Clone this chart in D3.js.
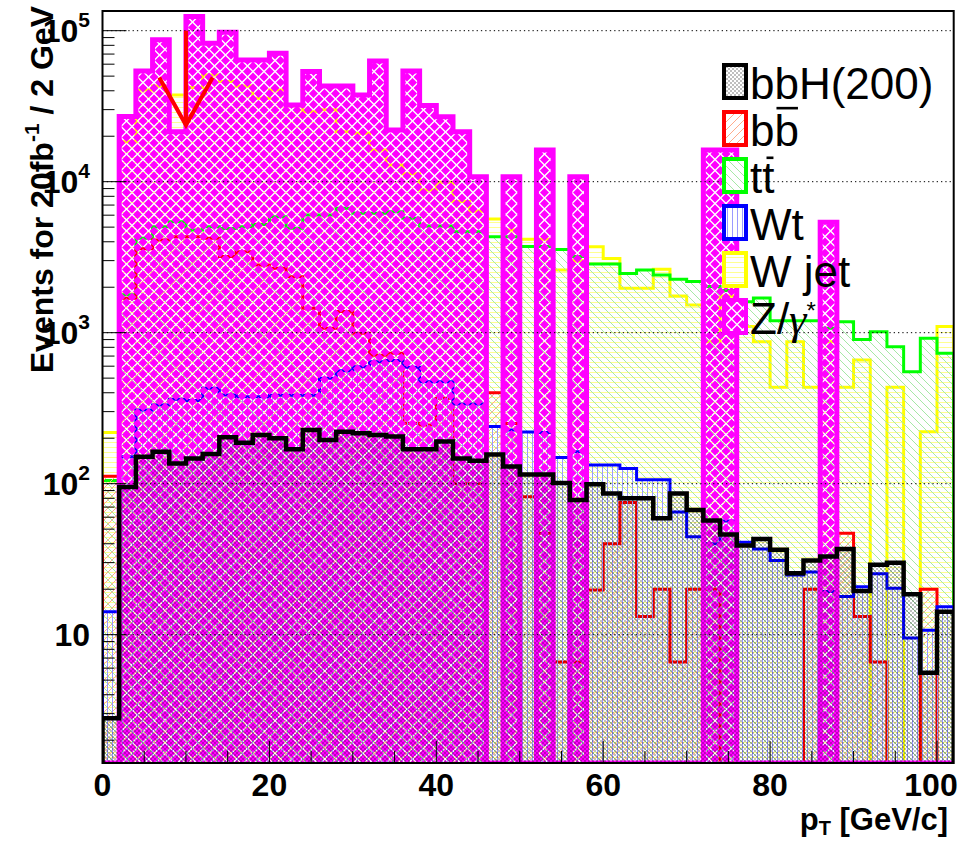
<!DOCTYPE html>
<html><head><meta charset="utf-8">
<script src="https://cdn.jsdelivr.net/npm/d3@7"></script>
<style>body{margin:0;background:#fff} svg{display:block}</style>
</head><body>
<svg id="c" width="971" height="842"></svg>
<script>
// ---------------- data ----------------
const binStart = [0,2,4,6,8,10,12,14,16,18,20,22,24,26,28,30,32,34,36,38,40,42,44,46,48,50,52,54,56,58,60,62,64,66,68,70,72,74,76,78,80,82,84,86,88,90,92,94,96,98,100];
const binWidth = 2;

const bbH = [2.8,95,151,163,136,147,157,203,187,210,200,169,227,195,221,216,210,205,169,169,190,147,142,156,130,115,115,101,78,99,86,80,80,59,86,67,57,46,39,43,36.5,25.5,31,33,37,19.5,29,30,18.5,5.6,14.2];
const bbbar = [112,1690,3600,4110,4320,4320,4220,3190,3440,2810,2670,2350,1450,1070,1380,990,710,731,251,245,368,100,100,400,250,82,47,6.6,6.6,19.8,40,75,13.2,20,6.6,20,20,0,0,0,0,0,20,0,47,13.2,6.6,0,0,20,0];
const ttbar = [105,1780,4220,5030,5430,4790,5030,4900,5030,5200,5860,4920,6010,6010,6660,6170,6170,6330,5720,5090,5090,4660,4660,4320,4320,3720,3720,3560,3200,2850,2850,2470,2600,2410,2260,2180,2020,1900,1600,1700,1200,1200,1200,1070,1180,900,1015,808,552,918,731];
const Wt = [14.2,151,308,332,362,355,428,387,377,377,385,385,385,499,560,595,643,653,590,474,474,337,337,239,227,220,218,149,163,133,133,126,106,106,65,44.6,40,56.6,41,37,31,24.8,26,19.3,17.9,20.8,25.3,20.3,9.5,10.7,15.3];
const Wjet = [218,18400,40500,43000,37500,42000,50900,46000,43000,35700,40500,32200,29100,30000,21400,20900,16200,12900,11300,8800,9900,7400,6400,5660,4790,4160,4160,2600,3000,3710,3100,1970,1970,2630,1750,1525,872,1750,1100,872,435,872,435,872,435,659,0,435,0,221,1100];
const Zgamma = [0,27000,54000,87000,21400,124000,82600,97800,64000,64000,71000,32200,53700,43000,43000,37500,63000,22000,54000,32000,26900,21400,10800,0,10800,0,16200,0,10800,0,0,0,0,0,0,0,16200,16200,0,0,0,0,0,5380,0,0,0,0,0,0,0];

const legendLabels = ["bbH(200)","bb\u0304","tt\u0304","Wt","W jet","Z/\u03b3*"];
const yTickValues = [10,100,1000,10000,100000];
const yTickExp = ["","2","3","4","5"];
const xTickLabels = [0,20,40,60,80,100];
const xMinorStep = 5;
const arrowX = 10, arrowFrom = 100000, arrowTo = 23700, arrowHeadAt = 49000, arrowHalf = 3.2;

// ---------------- layout ----------------
const svg = d3.select('#c');
const fx0 = 102.5, fx1 = 953.7, fy0 = 11, fy1 = 763;
const x = d3.scaleLinear().domain([0, 102]).range([fx0, fx1]);
const y = d3.scaleLog().domain([1.413, 1.35e5]).range([fy1, fy0]);

const defs = svg.append('defs');
defs.append('clipPath').attr('id','frameClip').append('rect')
  .attr('x',fx0).attr('y',fy0).attr('width',fx1-fx0).attr('height',fy1-fy0);
function pat(id,w,h,draw){
  const p = defs.append('pattern').attr('id',id).attr('patternUnits','userSpaceOnUse')
    .attr('width',w).attr('height',h);
  draw(p);
}
pat('pWjet',6,5,p=>p.append('path').attr('d','M0,2.5H6').attr('stroke','#ffff90').attr('stroke-width',1));
pat('pTt',8,8,p=>p.append('path').attr('d','M0,0L8,8M-4,4L4,12M4,-4L12,4').attr('stroke','#a6e8a6').attr('stroke-width',1));
pat('pBb',8,8,p=>p.append('path').attr('d','M0,8L8,0M-4,4L4,-4M4,12L12,4').attr('stroke','#ffab8a').attr('stroke-width',1));
pat('pWt',5,5,p=>p.append('path').attr('d','M2.5,0V5').attr('stroke','#9a9aff').attr('stroke-width',1));
pat('pZ',11,11,p=>p.append('path')
  .attr('d','M0,-4.5L4.5,0L0,4.5L-4.5,0Z M11,-4.5L15.5,0L11,4.5L6.5,0Z M0,6.5L4.5,11L0,15.5L-4.5,11Z M11,6.5L15.5,11L11,15.5L6.5,11Z M5.5,1L10,5.5L5.5,10L1,5.5Z')
  .attr('fill','#ff00ff'));
pat('pBbh',4,4,p=>{
  p.append('rect').attr('x',0.5).attr('y',0.5).attr('width',1).attr('height',1).attr('fill','#000');
  p.append('rect').attr('x',2.5).attr('y',2.5).attr('width',1).attr('height',1).attr('fill','#000');
});

function stepPoints(vals){
  const pts = [[x(0), fy1]];
  vals.forEach((v,i)=>{
    const yy = v > 0 ? y(v) : fy1;
    pts.push([x(binStart[i]), yy], [x(binStart[i]+binWidth), yy]);
  });
  pts.push([x(binStart[binStart.length-1]+binWidth), fy1]);
  return pts;
}
const line = d3.line();
const plot = svg.append('g').attr('clip-path','url(#frameClip)');

const series = [
  {vals:Wjet,  fill:'url(#pWjet)', stroke:'#ffff00', sw:3},
  {vals:ttbar, fill:'url(#pTt)',   stroke:'#00ff00', sw:3},
  {vals:bbbar, fill:'url(#pBb)',   stroke:'#ff0000', sw:3},
  {vals:Wt,    fill:'url(#pWt)',   stroke:'#0000ff', sw:3},
  {vals:Zgamma,fill:'url(#pZ)',    stroke:'#ff00ff', sw:5},
  {vals:bbH,   fill:'url(#pBbh)',  stroke:'#000000', sw:4.5}
];
series.forEach(s=>{
  const pts = stepPoints(s.vals);
  plot.append('path').attr('d', line(pts)+'Z').attr('fill', s.fill).attr('stroke','none');
  plot.append('path').attr('d', line(pts)).attr('fill','none')
    .attr('stroke', s.stroke).attr('stroke-width', s.sw).attr('stroke-linejoin','miter');
});

// grid
const grid = svg.append('g');
yTickValues.forEach(v=>{
  grid.append('line').attr('x1',fx0).attr('x2',fx1).attr('y1',y(v)).attr('y2',y(v))
    .attr('stroke','#000').attr('stroke-width',1).attr('stroke-dasharray','1.3,3');
});

// arrow
const arr = svg.append('g').attr('stroke','#ff0000').attr('stroke-width',4).attr('fill','none');
arr.append('line').attr('x1',x(arrowX)).attr('x2',x(arrowX)).attr('y1',y(arrowFrom)).attr('y2',y(arrowTo));
arr.append('path').attr('d', line([[x(arrowX-arrowHalf), y(arrowHeadAt)],[x(arrowX), y(arrowTo)],[x(arrowX+arrowHalf), y(arrowHeadAt)]]));

// axes ticks
const ax = svg.append('g').attr('stroke','#000').attr('stroke-width',1);
const yMinor = [];
for (let e = 0; e <= 5; e++) for (let m = 1; m <= 9; m++) {
  const v = m*Math.pow(10,e);
  if (v >= 1.413 && v <= 1.35e5) yMinor.push({v, major: m===1});
}
yMinor.forEach(t=>{
  ax.append('line').attr('x1',fx0).attr('x2',fx0+(t.major?24:12)).attr('y1',y(t.v)).attr('y2',y(t.v));
});
for (let v = 0; v <= 102; v += xMinorStep) {
  const major = xTickLabels.includes(v);
  ax.append('line').attr('x1',x(v)).attr('x2',x(v)).attr('y1',fy1).attr('y2',fy1-(major?22:12));
}
svg.append('rect').attr('x',fx0).attr('y',fy0).attr('width',fx1-fx0).attr('height',fy1-fy0)
  .attr('fill','none').attr('stroke','#000').attr('stroke-width',2);

// labels
const FONT = "'Liberation Sans', Arial, Helvetica, sans-serif";
const lab = svg.append('g').attr('font-family',FONT).attr('font-weight','bold').attr('fill','#000');
yTickValues.forEach((v,i)=>{
  const t = lab.append('text').attr('x',90).attr('y',y(v)+11.5).attr('text-anchor','end').attr('font-size',32);
  t.append('tspan').text('10');
  if (yTickExp[i]) t.append('tspan').attr('font-size',21).attr('dy',-15).text(yTickExp[i]);
});
xTickLabels.forEach((v,i)=>{
  lab.append('text').attr('x',x(v)).attr('dx', i===xTickLabels.length-1 ? -6 : 0)
    .attr('y',796).attr('text-anchor','middle').attr('font-size',32).text(v);
});
const xt = lab.append('text').attr('x',948).attr('y',830).attr('text-anchor','end').attr('font-size',31);
xt.append('tspan').text('p');
xt.append('tspan').attr('font-size',20).attr('dy',5).text('T');
xt.append('tspan').attr('dy',-5).text(' [GeV/c]');

const yt = lab.append('text').attr('transform','translate(53,6) rotate(-90)').attr('text-anchor','end').attr('font-size',32);
yt.append('tspan').text('Events for 20fb');
yt.append('tspan').attr('font-size',21).attr('dy',-14).text('-1');
yt.append('tspan').attr('dy',14).text(' / 2 GeV');

// legend
const legStyles = [
  {fill:'url(#pBbh)', stroke:'#000'},
  {fill:'url(#pBb)', stroke:'#ff0000'},
  {fill:'url(#pTt)', stroke:'#00ff00'},
  {fill:'url(#pWt)', stroke:'#0000ff'},
  {fill:'url(#pWjet)', stroke:'#ffff00'},
  {fill:'url(#pZ)', stroke:'#ff00ff'}
];
const leg = svg.append('g').attr('font-family',FONT);
legendLabels.forEach((txt,i)=>{
  const base = 99 + i*47;
  leg.append('rect').attr('x',724).attr('y',base-34).attr('width',22).attr('height',33)
    .attr('fill','#fff').attr('stroke','none');
  leg.append('rect').attr('x',724).attr('y',base-34).attr('width',22).attr('height',33)
    .attr('fill',legStyles[i].fill).attr('stroke',legStyles[i].stroke).attr('stroke-width',4);
  const t = leg.append('text').attr('x',750).attr('y',base).attr('font-size',44).attr('fill','#000');
  if (txt.includes('\u0304')) {
    const plain = txt.replace('\u0304','');
    t.text(plain);
    const r = t.node().getExtentOfChar(1);
    const up = plain[0]==='b' ? 0.86 : 0.8;
    leg.append('line').attr('x1',r.x + (plain[0]==='b'?2:r.width*0.35)).attr('x2',r.x+r.width-1)
      .attr('y1',base-44*up).attr('y2',base-44*up).attr('stroke','#000').attr('stroke-width',2.6);
  } else if (txt.startsWith('Z/')) {
    t.append('tspan').text('Z/');
    t.append('tspan').attr('font-family',"'Liberation Serif', 'DejaVu Serif', serif").attr('font-style','italic').text('\u03b3');
    t.append('tspan').attr('font-size',24).attr('dy',-15).text('*');
  } else {
    t.text(txt);
  }
});
</script>
</body></html>
